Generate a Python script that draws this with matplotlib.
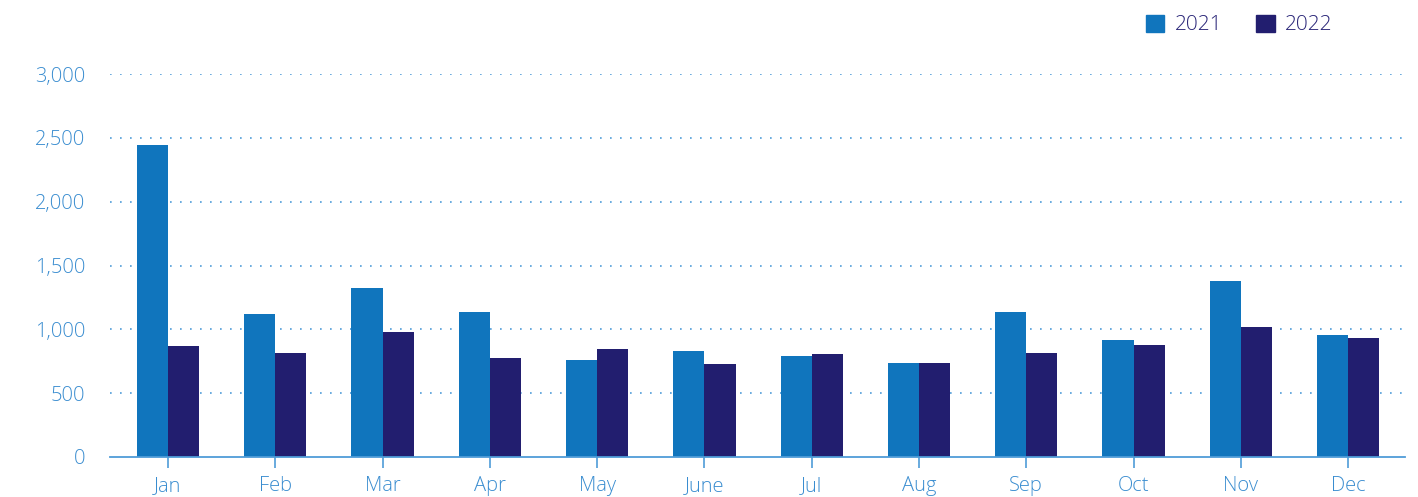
import matplotlib
matplotlib.use("Agg")
import matplotlib.pyplot as plt
import numpy as np
from matplotlib.patches import Patch

months = ["Jan", "Feb", "Mar", "Apr", "May", "June", "Jul", "Aug", "Sep", "Oct", "Nov", "Dec"]
values_2021 = [2445, 1120, 1324, 1136, 760, 830, 791, 736, 1136, 916, 1379, 956]
values_2022 = [869, 815, 979, 775, 846, 728, 807, 736, 815, 877, 1018, 932]
series_labels = ["2021", "2022"]
yticks = [0, 500, 1000, 1500, 2000, 2500, 3000]

c2021 = "#1075BD"
c2022 = "#221E6F"
tick_color = "#3A8DD0"
grid_color = "#4F9CD8"
legend_text = "#2A2678"

plt.rcParams['font.family'] = ['Open Sans', 'DejaVu Sans']

fig = plt.figure(figsize=(14.18, 4.97), dpi=100)
ax = fig.add_axes([110/1418, 1-457/497, (1405-110)/1418, (457-74)/497])

x = np.arange(len(months))
w = 0.29
ax.bar(x - w/2, values_2021, width=w, color=c2021, zorder=3)
ax.bar(x + w/2, values_2022, width=w, color=c2022, zorder=3)

ax.set_xlim(-0.54, len(months) - 1 + 0.53)
ax.set_ylim(0, 3000)
ax.set_yticks(yticks)
ax.set_yticklabels([f"{v:,}" for v in yticks], fontweight='light')
ax.set_xticks(x)
ax.set_xticklabels(months, fontweight='light')

for v in yticks[1:]:
    ax.axhline(v, color=grid_color, lw=1.2, ls=(0, (1, 5)), zorder=1)

for s in ["top", "right", "left"]:
    ax.spines[s].set_visible(False)
ax.spines["bottom"].set_color(grid_color)
ax.spines["bottom"].set_linewidth(1.3)
ax.spines["bottom"].set_zorder(4)

ax.tick_params(axis='y', length=0, pad=18, labelsize=14.5, labelcolor=tick_color)
ax.tick_params(axis='x', direction='out', length=8, width=1.2, color=grid_color,
               pad=6, labelsize=14.5, labelcolor=tick_color)

handles = [Patch(color=c2021), Patch(color=c2022)]
leg = fig.legend(handles, series_labels, loc='upper right', bbox_to_anchor=(1347/1418, 1.0),
                 ncol=2, frameon=False, fontsize=15, handlelength=0.9, handleheight=0.9,
                 handletextpad=0.5, columnspacing=1.6, borderaxespad=0.3)
for t in leg.get_texts():
    t.set_color(legend_text)
    t.set_fontweight('light')

fig.savefig("out.png", dpi=100)
